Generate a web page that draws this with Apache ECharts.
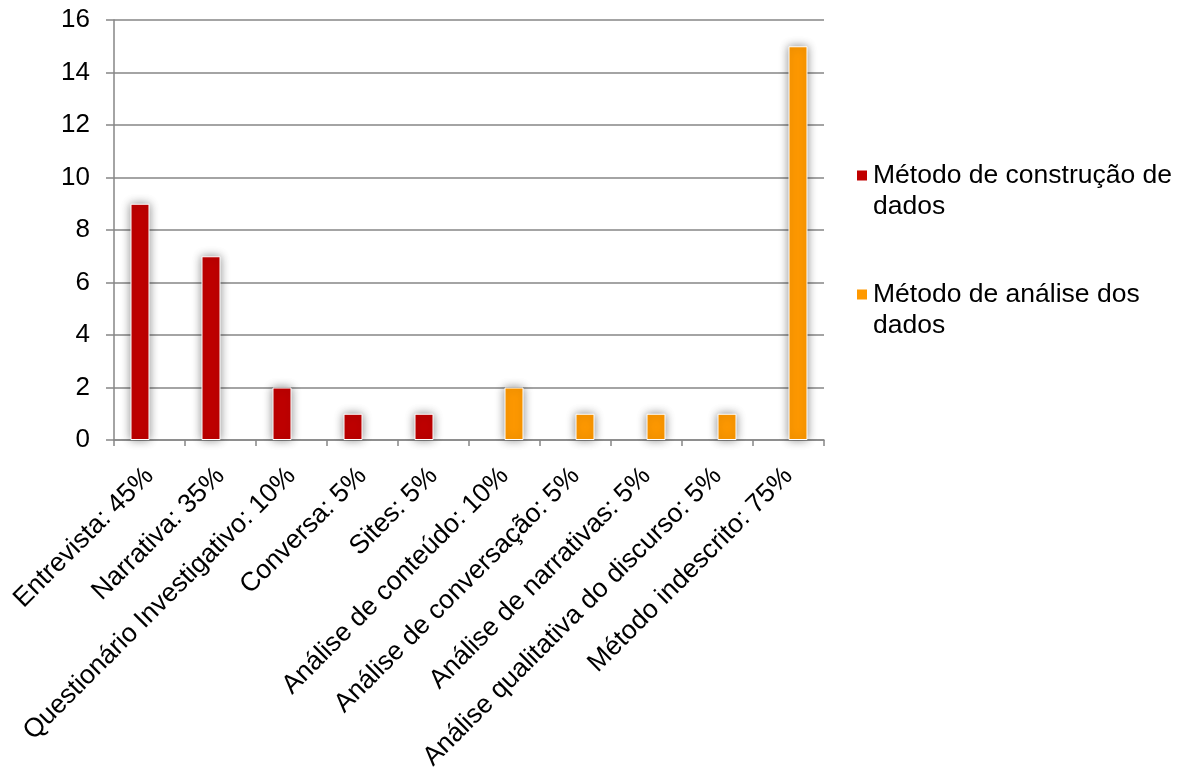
<!DOCTYPE html>
<html>
<head>
<meta charset="utf-8">
<script src="https://cdn.jsdelivr.net/npm/echarts@6/dist/echarts.min.js"></script>
<style>
html,body{margin:0;padding:0;background:#fff;}
#chart{width:1187px;height:769px;}
</style>
</head>
<body>
<div id="chart"></div>
<script>
var categories = [
  'Entrevista: 45%',
  'Narrativa: 35%',
  'Questionário Investigativo: 10%',
  'Conversa: 5%',
  'Sites: 5%',
  'Análise de conteúdo: 10%',
  'Análise de conversação: 5%',
  'Análise de narrativas: 5%',
  'Análise qualitativa do discurso: 5%',
  'Método indescrito: 75%'
];
var seriesNames = ['Método de construção de dados', 'Método de análise dos dados'];
var legendLabels = ['Método de construção de\ndados', 'Método de análise dos\ndados'];
var construcao = [9, 7, 2, 1, 1, null, null, null, null, null];
var analise = [null, null, null, null, null, 2, 1, 1, 1, 15];
var yTicks = { min: 0, max: 16, interval: 2 };

var FONT = '"Liberation Sans", Arial, sans-serif';
var chart = echarts.init(document.getElementById('chart'));
var barStyle = function (color) {
  return {
    color: color,
    borderColor: '#ffffff',
    borderWidth: 1,
    shadowColor: 'rgba(0,0,0,0.45)',
    shadowBlur: 10
  };
};
chart.setOption({
  animation: false,
  backgroundColor: '#ffffff',
  grid: { left: 114, right: 363, top: 20, bottom: 329, containLabel: false, outerBoundsMode: 'none' },
  legend: {
    orient: 'vertical',
    left: 855,
    top: 129,
    padding: 0,
    itemWidth: 12,
    itemHeight: 12,
    itemGap: 26,
    icon: 'rect',
    formatter: function (name) {
      return '\n' + legendLabels[seriesNames.indexOf(name)];
    },
    textStyle: {
      fontFamily: FONT,
      fontSize: 26.5,
      color: '#000',
      lineHeight: 31
    },
    data: seriesNames
  },
  xAxis: {
    type: 'category',
    data: categories,
    axisLine: { lineStyle: { color: '#868686', width: 1.5 } },
    axisTick: { show: true, length: 6, alignWithLabel: false, lineStyle: { color: '#868686', width: 1.5 } },
    axisLabel: {
      interval: 0,
      rotate: 45,
      margin: 32,
      fontFamily: FONT,
      fontSize: 26.5,
      color: '#000'
    }
  },
  yAxis: {
    type: 'value',
    min: yTicks.min,
    max: yTicks.max,
    interval: yTicks.interval,
    axisLine: { show: true, lineStyle: { color: '#868686', width: 1.5 } },
    axisTick: { show: true, length: 8, lineStyle: { color: '#868686', width: 1.5 } },
    splitLine: { lineStyle: { color: '#868686', width: 1.5 } },
    axisLabel: {
      margin: 24,
      fontFamily: FONT,
      fontSize: 26,
      color: '#000'
    }
  },
  series: [
    {
      name: seriesNames[0],
      type: 'bar',
      data: construcao,
      barWidth: 19,
      barGap: '0%',
      itemStyle: barStyle('#C00000')
    },
    {
      name: seriesNames[1],
      type: 'bar',
      data: analise,
      barWidth: 19,
      barGap: '0%',
      itemStyle: barStyle('#FF9900')
    }
  ]
});
</script>
</body>
</html>
